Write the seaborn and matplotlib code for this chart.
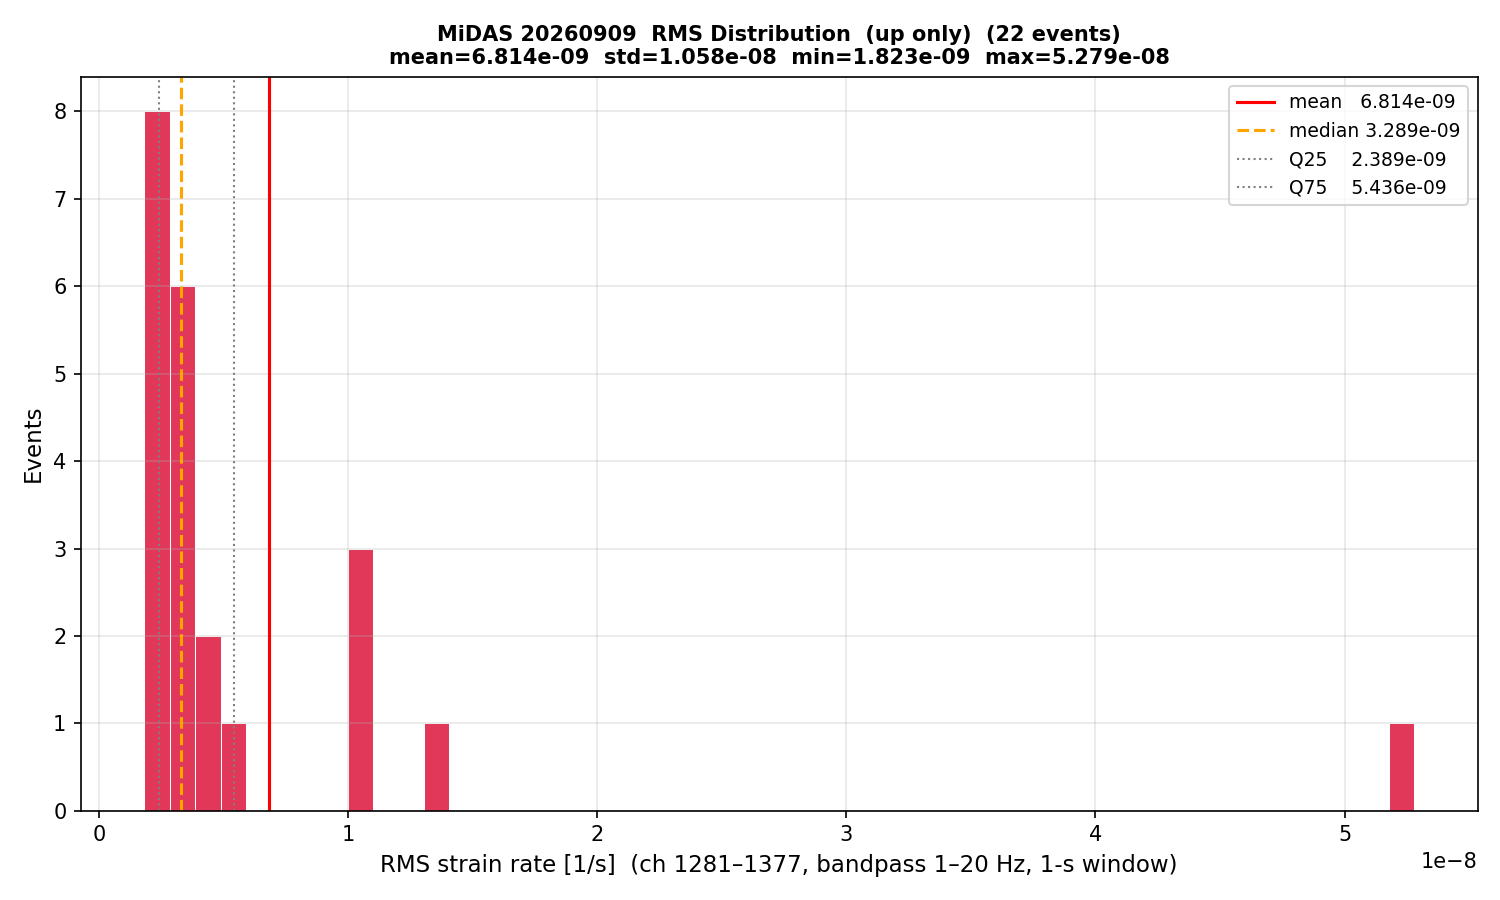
#!/usr/bin/env python3
# -*- coding: utf-8 -*-

import numpy as np
import pandas as pd
import matplotlib
matplotlib.use('Agg')
import matplotlib.pyplot as plt
import seaborn as sns

# per-event RMS strain rate [1/s] (22 events, up only)
rms_small = [1.823e-09, 1.85e-09, 1.90e-09, 2.00e-09, 2.10e-09, 2.35e-09,
             2.506e-09, 2.70e-09, 2.95e-09, 3.10e-09, 3.20e-09, 3.378e-09,
             3.55e-09, 3.75e-09, 4.20e-09, 4.50e-09, 5.748e-09]
rms_large = [1.05e-08, 1.07e-08, 1.0813e-08, 1.35e-08, 5.279e-08]

df = pd.DataFrame({'rms': rms_small + rms_large})
v = df['rms'].to_numpy()
mean, std = v.mean(), v.std()
med = np.median(v)
q25, q75 = np.percentile(v, [25, 75])

fig, ax = plt.subplots(figsize=(10, 6), dpi=150)
sns.histplot(data=df, x='rms', bins=50, color='crimson', alpha=0.85,
             edgecolor='white', linewidth=0.5, ax=ax)

ax.axvline(mean, color='red', lw=1.5, label=f'mean   {mean:.3e}')
ax.axvline(med, color='orange', ls='--', lw=1.5, label=f'median {med:.3e}')
ax.axvline(q25, color='gray', ls=':', lw=1.0, label=f'Q25    {q25:.3e}')
ax.axvline(q75, color='gray', ls=':', lw=1.0, label=f'Q75    {q75:.3e}')

ax.set_title(f'MiDAS 20260909  RMS Distribution  (up only)  ({len(v)} events)\n'
             f'mean={mean:.3e}  std={std:.3e}  min={v.min():.3e}  max={v.max():.3e}',
             fontsize=10, fontweight='bold')
ax.set_xlabel('RMS strain rate [1/s]  (ch 1281\u20131377, bandpass 1\u201320 Hz, 1-s window)',
              fontsize=11)
ax.set_ylabel('Events', fontsize=11)
ax.grid(alpha=0.3)
ax.legend(fontsize=9, loc='upper right')

fig.subplots_adjust(left=0.054, right=0.985, top=0.915, bottom=0.099)
fig.savefig('out.png')
